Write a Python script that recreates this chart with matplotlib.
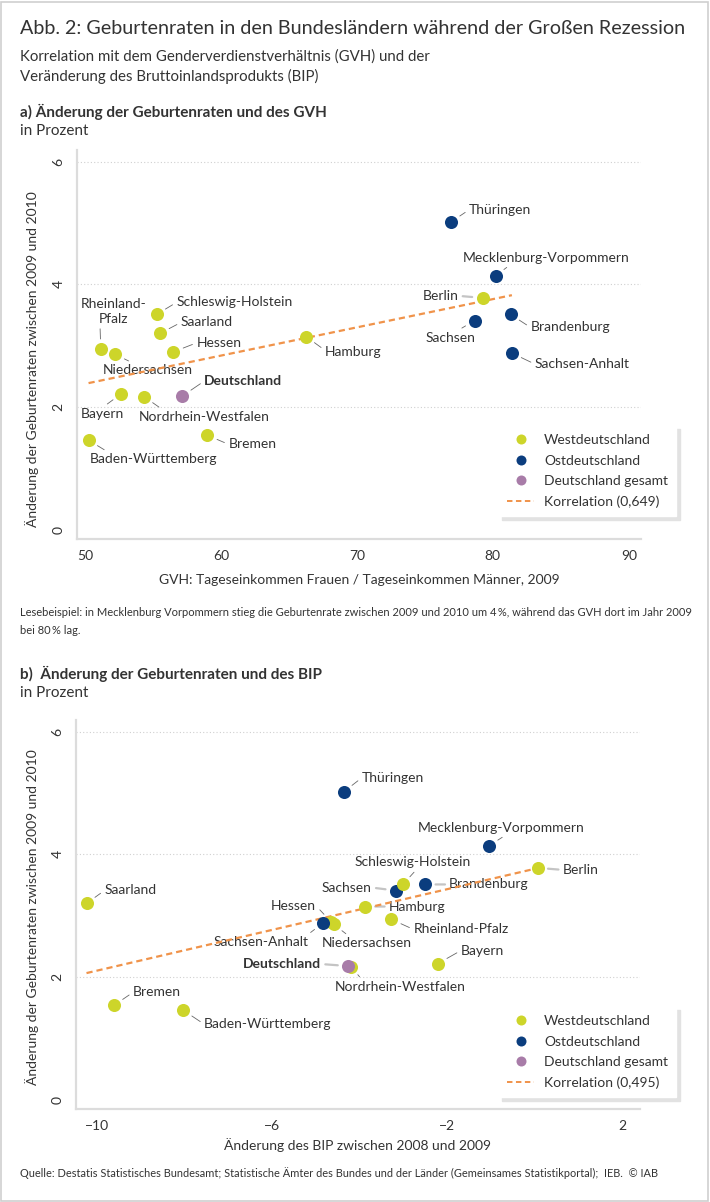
import numpy as np
import matplotlib
matplotlib.use('Agg')
import matplotlib.pyplot as plt
from matplotlib.lines import Line2D
from matplotlib.patches import Rectangle

# data
laender = ['Baden-Württemberg', 'Bayern', 'Berlin', 'Brandenburg', 'Bremen',
           'Hamburg', 'Hessen', 'Mecklenburg-Vorpommern', 'Niedersachsen',
           'Nordrhein-Westfalen', 'Rheinland-Pfalz', 'Saarland', 'Sachsen',
           'Sachsen-Anhalt', 'Schleswig-Holstein', 'Thüringen', 'Deutschland']
gruppe = ['W', 'W', 'W', 'O', 'W', 'W', 'W', 'O', 'W', 'W', 'W', 'W', 'O',
          'O', 'W', 'O', 'D']
gvh = [50.25, 52.67, 79.24, 81.3, 59.0, 66.25, 56.5, 80.2, 52.2, 54.34, 51.15,
       55.5, 78.65, 81.4, 55.25, 76.93, 57.15]
bip = [-8.04, -2.22, 0.06, -2.51, -9.62, -3.89, -4.66, -1.05, -4.60, -4.20,
       -3.28, -10.25, -3.18, -4.85, -3.02, -4.37, -4.27]
geburt = [1.46, 2.22, 3.78, 3.51, 1.54, 3.15, 2.90, 4.14, 2.86, 2.17, 2.94,
          3.20, 3.41, 2.88, 3.51, 5.02, 2.18]

legend_labels = ['Westdeutschland', 'Ostdeutschland', 'Deutschland gesamt']
korr_a = 'Korrelation (0,649)'
korr_b = 'Korrelation (0,495)'

farben = {'W': '#cdd52a', 'O': '#0b3d7e', 'D': '#a87ca8'}
orange = '#f0934a'
textfarbe = '#333333'

# label placement: dx, dy (pixels), ha, relpos of leader line
pos_a = {
    'Rheinland-Pfalz': (13, 38, 'center', (0.29, 0)),
    'Niedersachsen': (-12, -16, 'left', (0.36, 1)),
    'Schleswig-Holstein': (20, 12, 'left', (0, 0.5)),
    'Saarland': (21, 11, 'left', (0, 0.5)),
    'Hessen': (23, 9, 'left', (0, 0.5)),
    'Deutschland': (22, 15, 'left', (0, 0.5)),
    'Bayern': (-19, -20, 'center', (0.5, 1)),
    'Nordrhein-Westfalen': (-5, -20, 'left', (0.19, 1)),
    'Baden-Württemberg': (1, -19, 'left', (0.16, 1)),
    'Bremen': (21, -9, 'left', (0, 0.5)),
    'Hamburg': (19, -15, 'left', (0, 0.6)),
    'Thüringen': (18, 12, 'left', (0, 0.5)),
    'Mecklenburg-Vorpommern': (51, 18, 'center', (0.29, 0)),
    'Berlin': (-24, 2, 'right', (1, 0.5)),
    'Sachsen': (-24, -17, 'center', (0.61, 1)),
    'Brandenburg': (20, -13, 'left', (0, 0.5)),
    'Sachsen-Anhalt': (23, -11, 'left', (0, 0.5)),
}
pos_b = {
    'Saarland': (18, 13, 'left', (0, 0.5)),
    'Bremen': (19, 13, 'left', (0, 0.5)),
    'Baden-Württemberg': (21, -14, 'left', (0, 0.5)),
    'Sachsen-Anhalt': (-14, -19, 'right', (0.97, 1)),
    'Hessen': (-15, 16, 'right', (1, 0.5)),
    'Niedersachsen': (-12, -19, 'left', (0.32, 1)),
    'Deutschland': (-27, 2, 'right', (1, 0.5)),
    'Nordrhein-Westfalen': (-16, -20, 'left', (0.21, 1)),
    'Thüringen': (18, 14, 'left', (0, 0.5)),
    'Sachsen': (-24, 3, 'right', (1, 0.5)),
    'Mecklenburg-Vorpommern': (12, 18, 'center', (0.54, 0)),
    'Schleswig-Holstein': (10, 22, 'center', (0.54, 0)),
    'Brandenburg': (24, 0, 'left', (0, 0.5)),
    'Hamburg': (24, 0, 'left', (0, 0.5)),
    'Rheinland-Pfalz': (22, -10, 'left', (0, 0.5)),
    'Bayern': (23, 13, 'left', (0, 0.5)),
    'Berlin': (25, -2, 'left', (0, 0.5)),
}
namen_a = {'Rheinland-Pfalz': 'Rheinland-\nPfalz'}

plt.rcParams['font.family'] = ['Lato', 'DejaVu Sans']
plt.rcParams['text.color'] = textfarbe

W, H = 710, 1202
fig = plt.figure(figsize=(W / 100, H / 100), dpi=100)


def px(x, y):
    return x / W, 1 - y / H


def draw_panel(ax, xs, ys, pos, namen, xlim, xticks, xticklabels, korr, anker):
    xs = np.array(xs)
    ys = np.array(ys)
    ax.set_xlim(*xlim)
    ax.set_ylim(-0.15, 6.19)
    ax.set_yticks([0, 2, 4, 6])
    ax.set_xticks(xticks)
    ax.set_xticklabels(xticklabels)
    for s in ['top', 'right']:
        ax.spines[s].set_visible(False)
    for s in ['left', 'bottom']:
        ax.spines[s].set_color('#dcdcdc')
        ax.spines[s].set_linewidth(1.6)
    ax.tick_params(length=0, labelsize=10, colors=textfarbe)
    ax.tick_params(axis='y', labelrotation=90, pad=9)
    ax.tick_params(axis='x', pad=8)
    for lab in ax.get_yticklabels():
        lab.set_va('center')
    ax.grid(axis='y', linestyle=(0, (1, 2)), color='#d0d0d0', linewidth=0.8)
    ax.get_ygridlines()[0].set_visible(False)
    ax.set_axisbelow(True)

    # trend line over the 16 states
    staaten = np.array([g != 'D' for g in gruppe])
    m, b = np.polyfit(xs[staaten], ys[staaten], 1)
    xr = np.array([xs[staaten].min(), xs[staaten].max()])
    ax.plot(xr, m * xr + b, color=orange, lw=1.6, linestyle=(0, (2.8, 1.8)), zorder=4)

    for i, name in enumerate(laender):
        ax.plot(xs[i], ys[i], 'o', color=farben[gruppe[i]], markersize=9.4,
                markeredgewidth=0, zorder=5)
        dx, dy, ha, rel = pos[name]
        flach = abs(dy) < 5
        ax.annotate(namen.get(name, name), (xs[i], ys[i]), xytext=(dx, dy),
                    textcoords='offset pixels', ha=ha, va='center', fontsize=10,
                    fontweight='bold' if name == 'Deutschland' else 'normal',
                    color=textfarbe, linespacing=1.25,
                    arrowprops=dict(arrowstyle='-', shrinkA=1, shrinkB=7.5,
                                    relpos=rel,
                                    color='#c4c4c4' if flach else '#666666',
                                    lw=1.6 if flach else 0.6),
                    zorder=3)

    handles = [Line2D([], [], marker='o', linestyle='none', color=farben[k],
                      markersize=7.2, markeredgewidth=0) for k in ['W', 'O', 'D']]
    handles.append(Line2D([], [], color=orange, lw=1.4, linestyle=(0, (2.8, 1.8))))
    leg = ax.legend(handles, legend_labels + [korr], loc='upper left',
                    bbox_to_anchor=anker, borderaxespad=0, fontsize=10,
                    frameon=True, fancybox=False, framealpha=1, edgecolor='white',
                    shadow={'color': '#e2e2e2', 'alpha': 1, 'ox': 2.5, 'oy': -2.5},
                    handlelength=1.95, handletextpad=0.7, labelspacing=0.6,
                    borderpad=0.6)
    for t in leg.get_texts():
        t.set_color(textfarbe)
    leg.set_zorder(6)


# panel a
ax_a = fig.add_axes([77 / W, 1 - 539 / H, 564 / W, 389 / H])
draw_panel(ax_a, gvh, geburt, pos_a, namen_a, (49.4, 90.9),
           [50, 60, 70, 80, 90], ['50', '60', '70', '80', '90'], korr_a,
           ((499 - 77) / 564, (539 - 426) / 389))

# panel b
ax_b = fig.add_axes([76 / W, 1 - 1109 / H, 564 / W, 389 / H])
draw_panel(ax_b, bip, geburt, pos_b, {}, (-10.49, 2.40),
           [-10, -6, -2, 2], ['\u221210', '\u22126', '\u22122', '2'], korr_b,
           ((499 - 76) / 564, (1109 - 1007) / 389))

ylabel = 'Änderung der Geburtenraten zwischen 2009 und 2010'
fig.text(*px(32, 359), ylabel, rotation=90, ha='center', va='center', fontsize=10)
fig.text(*px(32, 917), ylabel, rotation=90, ha='center', va='center', fontsize=10)

# texts
fig.text(*px(20, 29), 'Abb. 2: Geburtenraten in den Bundesländern während der Großen Rezession',
         fontsize=14.2, va='center')
fig.text(*px(20, 57), 'Korrelation mit dem Genderverdienstverhältnis (GVH) und der',
         fontsize=10.8, va='center')
fig.text(*px(20, 76), 'Veränderung des Bruttoinlandsprodukts (BIP)', fontsize=10.8, va='center')
fig.text(*px(20, 112), 'a) Änderung der Geburtenraten und des GVH', fontsize=11,
         fontweight='bold', va='center')
fig.text(*px(20, 131), 'in Prozent', fontsize=11, va='center')
fig.text(*px(359, 580), 'GVH: Tageseinkommen Frauen / Tageseinkommen Männer, 2009',
         fontsize=10, ha='center', va='center')
fig.text(*px(20, 613), 'Lesebeispiel: in Mecklenburg Vorpommern stieg die Geburtenrate zwischen '
         '2009 und 2010 um 4\u2009%, während das GVH dort im Jahr 2009',
         fontsize=8.05, va='center')
fig.text(*px(20, 630), 'bei 80\u2009% lag.', fontsize=8.05, va='center')
fig.text(*px(20, 674), 'b)  Änderung der Geburtenraten und des BIP', fontsize=11,
         fontweight='bold', va='center')
fig.text(*px(20, 693), 'in Prozent', fontsize=11, va='center')
fig.text(*px(357, 1145), 'Änderung des BIP zwischen 2008 und 2009', fontsize=10,
         ha='center', va='center')
fig.text(*px(20, 1173), 'Quelle: Destatis Statistisches Bundesamt; Statistische Ämter des Bundes '
         'und der Länder (Gemeinsames Statistikportal);  IEB.  © IAB',
         fontsize=7.9, va='center')

# outer frame
fig.patches.append(Rectangle((1.5 / W, 1.5 / H), 1 - 3.5 / W, 1 - 3.5 / H,
                             transform=fig.transFigure, fill=False,
                             edgecolor='#cfcfcf', linewidth=1.2))

fig.savefig('out.png', dpi=100)
